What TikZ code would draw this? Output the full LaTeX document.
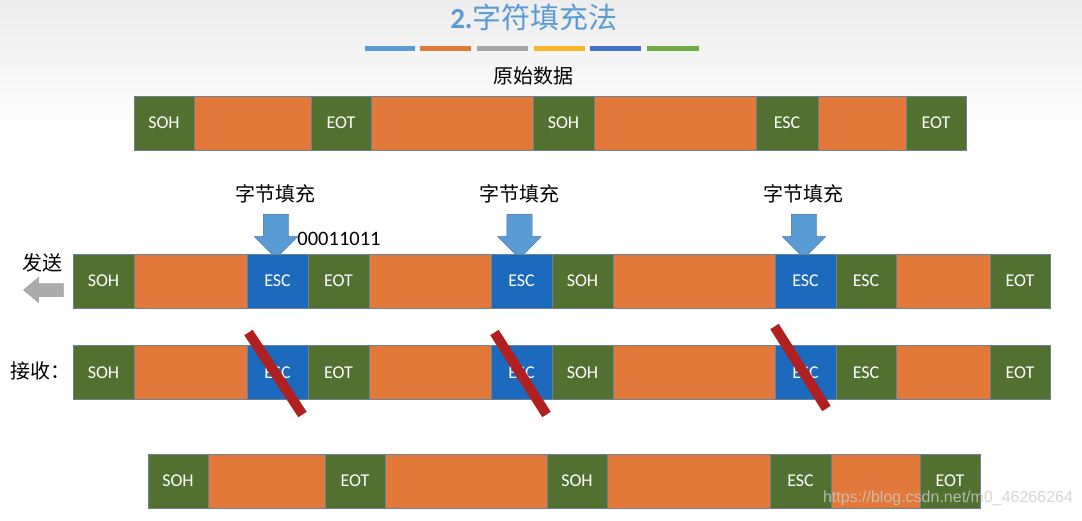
\documentclass[tikz,border=0pt]{standalone}
\usepackage{fontspec}
\setmainfont{Carlito}
\newfontfamily\cjk{Noto Sans CJK SC}
\newfontfamily\markfont{Liberation Sans}
\usetikzlibrary{shapes.arrows}

\definecolor{cellgreen}{RGB}{82,113,49}
\definecolor{cellorange}{RGB}{226,120,57}
\definecolor{cellblue}{RGB}{28,106,190}
\definecolor{cellline}{RGB}{110,130,150}
\definecolor{arrowblue}{RGB}{91,155,213}
\definecolor{arrowline}{RGB}{65,113,156}
\definecolor{crossred}{RGB}{176,32,32}
\definecolor{titleblue}{RGB}{91,155,213}
\definecolor{bargray}{RGB}{165,165,165}
\definecolor{bargold}{RGB}{245,182,40}
\definecolor{bardark}{RGB}{68,114,196}
\definecolor{bargreen}{RGB}{112,173,71}

\begin{document}
\begin{tikzpicture}[x=1pt, y=-1pt,
        cell/.style={rectangle, draw=cellline, line width=0.6pt, inner sep=0pt, minimum height=54pt, text=white, font=\fontsize{18}{18}\selectfont},
        ctrl/.style={cell, fill=cellgreen},
        stuffed/.style={cell, fill=cellblue},
        payload/.style={cell, fill=cellorange},
        cjktext/.style={inner sep=0pt, font=\cjk\fontsize{20}{20}\selectfont},
        fillarrow/.style={single arrow, rotate=-90, draw=arrowline, fill=arrowblue, minimum width=43pt, minimum height=44pt, single arrow head extend=9pt, inner xsep=0pt, inner ysep=12.5pt},
        sendarrow/.style={single arrow, rotate=180, draw=gray!80, fill=gray!65, minimum width=25pt, minimum height=40pt, single arrow head extend=6pt, single arrow tip angle=80, inner xsep=0pt, inner ysep=6.5pt},
        strike/.style={draw=crossred, line width=10pt},
        bar/.style={line width=5pt},]

        \useasboundingbox (0,0) rectangle (1082,521);
        \shade[top color=gray!14, bottom color=white] (0,0) rectangle (1082,140);
        \fill[white] (0,140) rectangle (1082,521);

        % Title
        \node[inner sep=0pt, text=titleblue] (title) at (534,17)
            {\fontsize{29}{29}\selectfont\textbf{2.}\cjk 字符填充法};
        \draw[bar, arrowblue]  (365,49) -- (415,49);
        \draw[bar, cellorange] (420,49) -- (471,49);
        \draw[bar, bargray]    (477,49) -- (528,49);
        \draw[bar, bargold]    (534,49) -- (585,49);
        \draw[bar, bardark]    (590,49) -- (641,49);
        \draw[bar, bargreen]   (647,49) -- (699,49);

        % Original frame
        \node[cjktext] (orig) at (533,76) {原始数据};
        \node[ctrl, minimum width=60pt]     (o1) at (164,123)   {SOH};
        \node[payload, minimum width=117pt] (o2) at (252.5,123) {};
        \node[ctrl, minimum width=60pt]     (o3) at (341,123)   {EOT};
        \node[payload, minimum width=162pt] (o4) at (452,123)   {};
        \node[ctrl, minimum width=61pt]     (o5) at (563.5,123) {SOH};
        \node[payload, minimum width=162pt] (o6) at (675,123)   {};
        \node[ctrl, minimum width=62pt]     (o7) at (787,123)   {ESC};
        \node[payload, minimum width=88pt]  (o8) at (862,123)   {};
        \node[ctrl, minimum width=60pt]     (o9) at (936,123)   {EOT};

        % Byte stuffing
        \node[cjktext] (b1) at (275,194) {字节填充};
        \node[cjktext] (b2) at (519,194) {字节填充};
        \node[cjktext] (b3) at (803,194) {字节填充};
        \node[fillarrow] (a1) at (276,230) {};
        \node[fillarrow] (a2) at (519.5,230) {};
        \node[fillarrow] (a3) at (804,230) {};
        \node[inner sep=0pt, font=\fontsize{20.5}{20.5}\selectfont] (code) at (339,239) {00011011};

        % Sent frame
        \node[cjktext] (send) at (42,263) {发送};
        \node[sendarrow] (sa) at (47.5,290) {};
        \node[ctrl, minimum width=61pt]     (s1)  at (103.5,281) {SOH};
        \node[payload, minimum width=113pt] (s2)  at (190.5,281) {};
        \node[stuffed, minimum width=61pt]  (s3)  at (277.5,281) {ESC};
        \node[ctrl, minimum width=61pt]     (s4)  at (338.5,281) {EOT};
        \node[payload, minimum width=122pt] (s5)  at (430,281)   {};
        \node[stuffed, minimum width=61pt]  (s6)  at (521.5,281) {ESC};
        \node[ctrl, minimum width=61pt]     (s7)  at (582.5,281) {SOH};
        \node[payload, minimum width=162pt] (s8)  at (694,281)   {};
        \node[stuffed, minimum width=61pt]  (s9)  at (805.5,281) {ESC};
        \node[ctrl, minimum width=60pt]     (s10) at (866,281)   {ESC};
        \node[payload, minimum width=94pt]  (s11) at (943,281)   {};
        \node[ctrl, minimum width=60pt]     (s12) at (1020,281)  {EOT};

        % Received frame
        \node[cjktext] (recv) at (40,371) {接收：};
        \node[ctrl, minimum width=61pt]     (r1)  at (103.5,372.5) {SOH};
        \node[payload, minimum width=113pt] (r2)  at (190.5,372.5) {};
        \node[stuffed, minimum width=61pt]  (r3)  at (277.5,372.5) {ESC};
        \node[ctrl, minimum width=61pt]     (r4)  at (338.5,372.5) {EOT};
        \node[payload, minimum width=122pt] (r5)  at (430,372.5)   {};
        \node[stuffed, minimum width=61pt]  (r6)  at (521.5,372.5) {ESC};
        \node[ctrl, minimum width=61pt]     (r7)  at (582.5,372.5) {SOH};
        \node[payload, minimum width=162pt] (r8)  at (694,372.5)   {};
        \node[stuffed, minimum width=61pt]  (r9)  at (805.5,372.5) {ESC};
        \node[ctrl, minimum width=60pt]     (r10) at (866,372.5)   {ESC};
        \node[payload, minimum width=94pt]  (r11) at (943,372.5)   {};
        \node[ctrl, minimum width=60pt]     (r12) at (1020,372.5)  {EOT};
        \draw[strike] ([shift={(-29,-40)}]r3.center) -- ([shift={(25,42)}]r3.center);
        \draw[strike] ([shift={(-27,-40)}]r6.center) -- ([shift={(25,42)}]r6.center);
        \draw[strike] ([shift={(-31,-46)}]r9.center) -- ([shift={(21,36)}]r9.center);

        % Restored frame
        \node[ctrl, minimum width=60pt]     (f1) at (178,481)   {SOH};
        \node[payload, minimum width=117pt] (f2) at (266.5,481) {};
        \node[ctrl, minimum width=60pt]     (f3) at (355,481)   {EOT};
        \node[payload, minimum width=162pt] (f4) at (466,481)   {};
        \node[ctrl, minimum width=60pt]     (f5) at (577,481)   {SOH};
        \node[payload, minimum width=163pt] (f6) at (688.5,481) {};
        \node[ctrl, minimum width=61pt]     (f7) at (800.5,481) {ESC};
        \node[payload, minimum width=89pt]  (f8) at (875.5,481) {};
        \node[ctrl, minimum width=60pt]     (f9) at (950,481)   {EOT};

        \node[inner sep=0pt, text=gray!40, opacity=0.8, font=\markfont\fontsize{16}{16}\selectfont] (mark) at (948,498) {https://blog.csdn.net/m0\_46266264};
    \end{tikzpicture}
\end{document}
